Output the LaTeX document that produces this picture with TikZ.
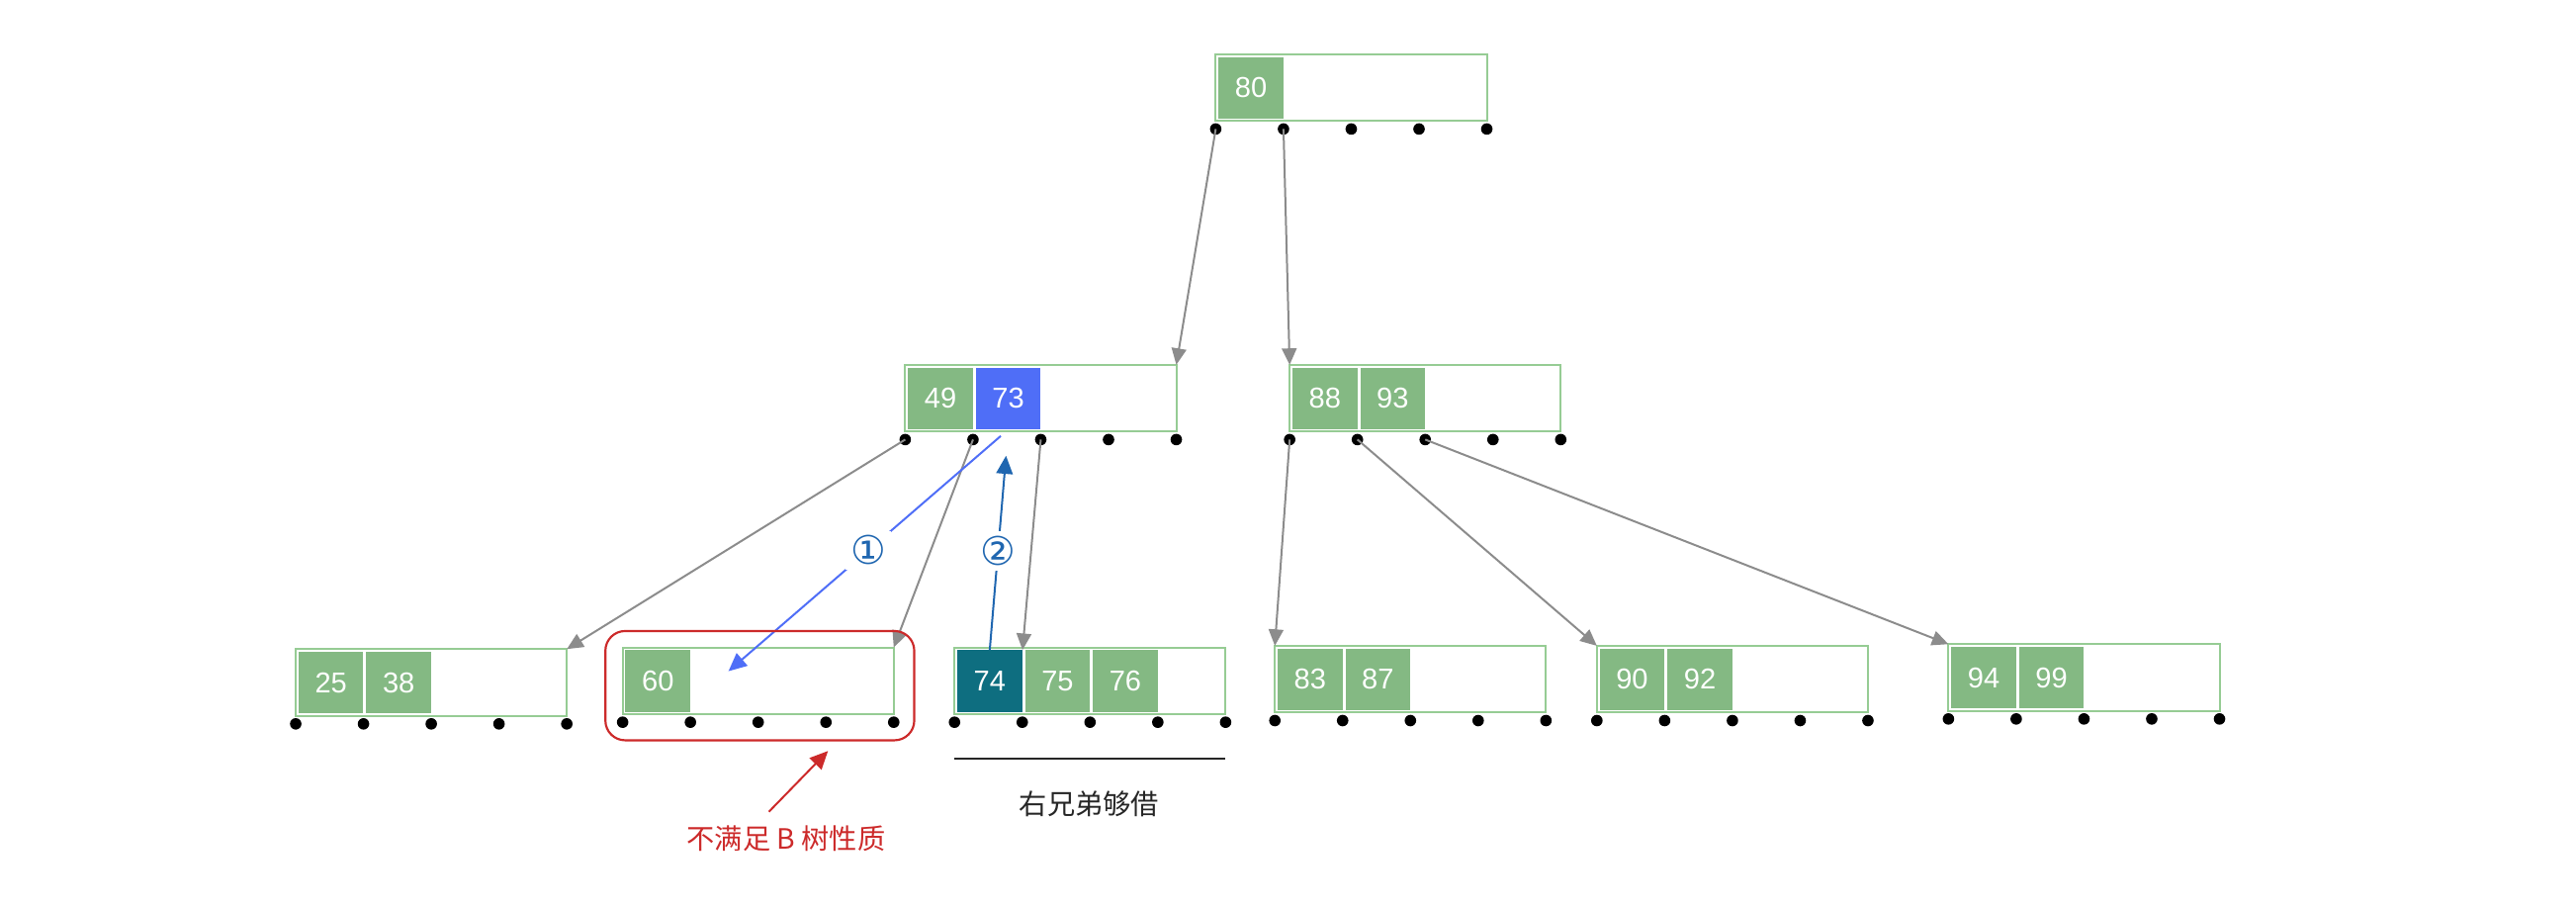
\documentclass[tikz,border=0pt]{standalone}
\usepackage{fontspec}
\setmainfont{Liberation Sans}
\newfontfamily\cjk{Noto Sans CJK SC}
\newfontfamily\circfont{DejaVu Sans}
\usetikzlibrary{arrows.meta,calc,positioning}
\definecolor{keygreen}{HTML}{84B983}
\definecolor{boxgreen}{HTML}{96CC94}
\definecolor{keyblue}{HTML}{4F6EF7}
\definecolor{keyteal}{HTML}{0E6E80}
\definecolor{arrgray}{HTML}{8C8C8C}
\definecolor{stepblue}{HTML}{1F66B0}
\definecolor{warnred}{HTML}{CC2A2A}
\tikzset{
  btbox/.style={draw=boxgreen,line width=1.2pt,minimum width=165pt,minimum height=40.5pt,anchor=north west,inner sep=0pt,outer sep=0pt},
  keycell/.style={anchor=north west,minimum width=39.5pt,minimum height=37.5pt,inner sep=0pt,text=white,font=\fontsize{17.5}{18}\selectfont},
  link/.style={draw=arrgray,line width=1.2pt,-{Triangle[length=10pt,width=9pt]}},
  steplabel/.style={fill=white,text=stepblue,inner sep=3pt,font=\circfont\fontsize{24}{26}\selectfont}
}
% name, top-left corner, keys as value/colour
\newcommand{\btnode}[3]{%
  \node[btbox] (#1) at (#2) {};
  \foreach \v/\c [count=\i from 0] in {#3}
    \node[keycell,fill=\c] (#1-k\i) at ($(#1.north west)+(\i*41.25+1.5,1.5)$) {\v};
  \foreach \i in {0,...,4}
    \fill ($(#1.south west)+(\i*41.25,5)$) coordinate (#1-p\i) circle (3.5pt);
}
\begin{document}
\begin{tikzpicture}[x=1pt,y=-1pt]
\useasboundingbox (0,0) rectangle (1568,553);
\btnode{root}{740,33}{80/keygreen}
\btnode{ml}{551,222}{49/keygreen,73/keyblue}
\btnode{mr}{785,222}{88/keygreen,93/keygreen}
\btnode{l1}{180,395}{25/keygreen,38/keygreen}
\btnode{l2}{379,394}{60/keygreen}
\btnode{l3}{581,394}{74/keyteal,75/keygreen,76/keygreen}
\btnode{l4}{776,393}{83/keygreen,87/keygreen}
\btnode{l5}{972,393}{90/keygreen,92/keygreen}
\btnode{l6}{1186,392}{94/keygreen,99/keygreen}
\draw[link] (root-p0) -- (ml.north east);
\draw[link] (root-p1) -- (mr.north west);
\draw[link] (ml-p0) -- (l1.north east);
\draw[link] (ml-p1) -- (l2.north east);
\draw[link] (ml-p2) -- (l3-k0.north east);
\draw[link] (mr-p0) -- (l4.north west);
\draw[link] (mr-p1) -- (l5.north west);
\draw[link] (mr-p2) -- (l6.north west);
\coordinate (l2-free) at ($(l2-k0.east)+(23,-6)$);
\draw[keyblue,line width=1.2pt,-{Triangle[length=11pt,width=10pt]},shorten <=6pt] (ml-k1.south) -- node[steplabel,pos=0.5] {①} (l2-free);
\draw[stepblue,line width=1.2pt,-{Triangle[length=11pt,width=10pt]},shorten >=16pt] (l3-k0.north) -- node[steplabel,pos=0.45] {②} (ml-k1.south);
\draw[warnred,line width=1.3pt,rounded corners=12pt] ($(l2.north west)+(-10.5,-10)$) rectangle ($(l2.south east)+(12.5,16)$);
\node[text=warnred,font=\cjk\fontsize{17}{20}\selectfont] (warn) at (478.5,510.5) {不满足 B 树性质};
\coordinate (warn-tail) at (468,494);
\coordinate (warn-head) at (504,457);
\draw[warnred,line width=1.2pt,-{Triangle[length=11pt,width=10pt]}] (warn-tail) -- (warn-head);
\draw[black!85,line width=1.1pt] ($(l3.south west)+(0,27)$) coordinate (lend-a) -- ($(l3.south east)+(0,27)$) coordinate (lend-b);
\node[text=black!85,font=\cjk\fontsize{17}{20}\selectfont] (lend) at (663,489) {右兄弟够借};
\end{tikzpicture}
\end{document}
